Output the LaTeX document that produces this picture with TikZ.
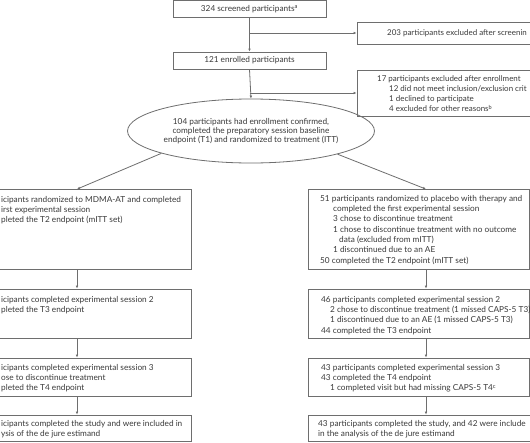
\documentclass[tikz,border=0pt]{standalone}
\usepackage{fontspec}
\setmainfont{Lato}
\usetikzlibrary{shapes.geometric,arrows.meta}
\definecolor{ln}{HTML}{6E6E6E}
\definecolor{tx}{HTML}{3A3A3A}
\begin{document}
\begin{tikzpicture}[x=1pt,y=-1pt,
  box/.style={draw=ln,line width=0.8pt,rectangle,inner sep=0pt,text=tx,font=\fontsize{8.25}{10.3}\selectfont},
  txt/.style={text=tx,font=\fontsize{8.25}{10.3}\selectfont,inner sep=0pt,align=left,anchor=north west},
  txs/.style={txt,font=\fontsize{7.95}{10.3}\selectfont},
  arr/.style={draw=ln,line width=0.8pt,-{Latex[length=3pt,width=2.6pt]}}]
\useasboundingbox (0,0) rectangle (530,442);
\clip (0,0) rectangle (530,442);
\fill[white] (0,0) rectangle (530,442);
% top column
\node[box,minimum width=153pt,minimum height=17pt] (scr) at (249.5,9) {324 screened participants\textsuperscript{a}};
\node[box,minimum width=153pt,minimum height=17pt] (enr) at (249.5,60.5) {121 enrolled participants};
\node[box,minimum width=243pt,minimum height=22pt] (ex1) at (478.5,33) {};
\node[txs,anchor=west] (ex1t) at (387,33.5) {203 participants excluded after screenin};
\node[box,minimum width=243pt,minimum height=46pt] (ex2) at (478.5,93) {};
\node[txs] (ex2t) at (377,75) {17 participants excluded after enrollment\\
\hspace*{12pt}12 did not meet inclusion/exclusion crit\\
\hspace*{12pt}1 declined to participate\\
\hspace*{12pt}4 excluded for other reasons\textsuperscript{b}};
\node[draw=ln,line width=0.8pt,ellipse,minimum width=214pt,minimum height=64pt,inner sep=0pt,text=tx,align=center,font=\fontsize{8.25}{8.7}\selectfont] (ell) at (251,131)
 {104 participants had enrollment confirmed,\\completed the preparatory session baseline\\endpoint (T1) and randomized to treatment (ITT)};
% left column
\node[box,minimum width=228pt,minimum height=80pt] (m1) at (77,229.5) {};
\node[txt] (m1t) at (1,196) {icipants randomized to MDMA-AT and completed\\
irst experimental session\\
pleted the T2 endpoint (mITT set)};
\node[box,minimum width=228pt,minimum height=49.5pt] (m2) at (77,313.75) {};
\node[txt] (m2t) at (1,296) {icipants completed experimental session 2\\
pleted the T3 endpoint};
\node[box,minimum width=228pt,minimum height=38pt] (m3) at (77,377) {};
\node[txt] (m3t) at (1,364) {icipants completed experimental session 3\\
ose to discontinue treatment\\
pleted the T4 endpoint};
\node[box,minimum width=228pt,minimum height=26.5pt] (m4) at (77,428.25) {};
\node[txt] (m4t) at (1,420) {icipants completed the study and were included in\\
ysis of the de jure estimand};
% right column
\coordinate (rc) at (426,0);
\node[box,minimum width=221.5pt,minimum height=80pt] (p1) at (418.75,229.5) {};
\node[txt] (p1t) at (320,195) {51 participants randomized to placebo with therapy and\\
\hspace*{13pt}completed the first experimental session\\
\hspace*{13pt}3 chose to discontinue treatment\\
\hspace*{13pt}1 chose to discontinue treatment with no outcome\\
\hspace*{19pt}data (excluded from mITT)\\
\hspace*{13pt}1 discontinued due to an AE\\
50 completed the T2 endpoint (mITT set)};
\node[box,minimum width=221.5pt,minimum height=49.5pt] (p2) at (418.75,313.75) {};
\node[txt] (p2t) at (321,296) {46 participants completed experimental session 2\\
\hspace*{9pt}2 chose to discontinue treatment (1 missed CAPS-5 T3)\\
\hspace*{9pt}1 discontinued due to an AE (1 missed CAPS-5 T3)\\
44 completed the T3 endpoint};
\node[box,minimum width=221.5pt,minimum height=38pt] (p3) at (418.75,377) {};
\node[txt] (p3t) at (321,364) {43 participants completed experimental session 3\\
43 completed the T4 endpoint\\
\hspace*{9pt}1 completed visit but had missing CAPS-5 T4\textsuperscript{c}};
\node[box,minimum width=292pt,minimum height=26.5pt] (p4) at (454,428.25) {};
\node[txt] (p4t) at (318,420) {43 participants completed the study, and 42 were include\\
in the analysis of the de jure estimand};
% connectors
\draw[arr] (scr.south) -- (enr.north);
\draw[arr] (scr.south |- ex1.west) -- (ex1.west);
\draw[arr] (enr.south) -- (ell.north);
\draw[arr] (enr.south |- ex2.west) -- (ex2.west);
\draw[arr] (ell.194) -- (m1.north);
\draw[arr] (ell.345.5) -- (p1.north -| rc);
\draw[arr] (m1.south) -- (m2.north);
\draw[arr] (m2.south) -- (m3.north);
\draw[arr] (m3.south) -- (m4.north);
\draw[arr] (p1.south -| rc) -- (p2.north -| rc);
\draw[arr] (p2.south -| rc) -- (p3.north -| rc);
\draw[arr] (p3.south -| rc) -- (p4.north -| rc);
\end{tikzpicture}
\end{document}
